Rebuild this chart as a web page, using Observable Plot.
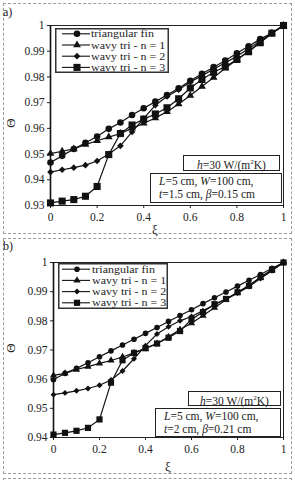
<!DOCTYPE html>
<html><head><meta charset="utf-8">
<script src="https://cdn.jsdelivr.net/npm/d3@7"></script>
<script src="https://cdn.jsdelivr.net/npm/@observablehq/plot@0.6"></script>
<style>
body{margin:0;background:#fff;font-family:"Liberation Serif","Times New Roman",serif;color:#111}
#root{position:relative;width:295px;height:480px;overflow:hidden;background:#fff}
.abs{position:absolute}
.dash{position:absolute;border:1px dashed #9c9c9c;box-sizing:border-box}
.box{position:absolute;border:1.5px solid #222;background:#fff;box-sizing:border-box;font-size:11.5px;line-height:13px;white-space:nowrap;color:#222}
.lbl{position:absolute;font-size:12px;line-height:12px;color:#222}
.ax{position:absolute;font-size:13px;line-height:13px;color:#222;transform:translate(-50%,-50%)}
.plot{position:absolute;left:0}
</style></head>
<body><div id="root"></div>
<script>
// ---- data ----
const xi = [0,0.05,0.1,0.15,0.2,0.25,0.3,0.35,0.4,0.45,0.5,0.55,0.6,0.65,0.7,0.75,0.8,0.85,0.9,0.95,1];
const seriesNames = ["triangular fin","wavy tri - n = 1","wavy tri - n = 2","wavy tri - n = 3"];
// panel a (t = 1.5 cm)
const triA = [0.9467,0.9493,0.9520,0.9544,0.9568,0.9598,0.9623,0.9652,0.9678,0.9704,0.9730,0.9756,0.9785,0.9812,0.9838,0.9864,0.9892,0.9919,0.9947,0.9971,1.0];
const n1A  = [0.9502,0.9511,0.9520,0.9537,0.9552,0.9566,0.9580,0.9600,0.9620,0.9640,0.9665,0.9695,0.9728,0.9763,0.9798,0.9834,0.9867,0.9900,0.9935,0.9970,1.0];
const n2A  = [0.9430,0.9439,0.9447,0.9457,0.9473,0.9500,0.9532,0.9586,0.9638,0.9690,0.9724,0.9750,0.9780,0.9805,0.9830,0.9855,0.9880,0.9910,0.9940,0.9970,1.0];
const n3A  = [0.9310,0.9317,0.9323,0.9336,0.9374,0.9498,0.9580,0.9613,0.9636,0.9656,0.9680,0.9715,0.9757,0.9790,0.9818,0.9840,0.9868,0.9898,0.9933,0.9970,1.0];
// panel b (t = 2 cm)
const triB = [0.9598,0.9620,0.9637,0.9656,0.9677,0.9697,0.9717,0.9737,0.9757,0.9777,0.9798,0.9818,0.9838,0.9859,0.9879,0.9899,0.9919,0.9939,0.9959,0.9980,1.0];
const n1B  = [0.9613,0.9620,0.9633,0.9643,0.9654,0.9664,0.9676,0.9690,0.9705,0.9722,0.9745,0.9770,0.9792,0.9818,0.9845,0.9872,0.9897,0.9922,0.9948,0.9974,1.0];
const n2B  = [0.9547,0.9553,0.9560,0.9568,0.9579,0.9597,0.9628,0.9670,0.9715,0.9755,0.9780,0.9800,0.9815,0.9835,0.9855,0.9875,0.9895,0.9918,0.9945,0.9972,1.0];
const n3B  = [0.9410,0.9416,0.9423,0.9433,0.9462,0.9588,0.9665,0.9690,0.9706,0.9722,0.9742,0.9765,0.9805,0.9830,0.9857,0.9875,0.9898,0.9920,0.9950,0.9975,1.0];
const xTicks = [0,0.2,0.4,0.6,0.8,1];
const yTicksA = [0.93,0.94,0.95,0.96,0.97,0.98,0.99,1];
const yTicksB = [0.94,0.95,0.96,0.97,0.98,0.99,1];

const symbols = ["circle","triangle","diamond2","square"];
const root = document.getElementById("root");
const fmt = d => String(+d.toFixed(2));

function tidy(arrs){
  const out = [];
  arrs.forEach((a,i)=> a.forEach((v,j)=> out.push({s:seriesNames[i], x:xi[j], y:v})));
  return out;
}

function panel(arrs, yTicks, opt){
  const data = tidy(arrs);
  const marks = [Plot.frame({stroke:"#222", strokeWidth:1})];
  seriesNames.forEach((s,i)=>{
    marks.push(Plot.line(data.filter(d=>d.s===s), {x:"x", y:"y", stroke:"#111", strokeWidth:opt.sw}));
  });
  seriesNames.forEach((s,i)=>{
    marks.push(Plot.dot(data.filter(d=>d.s===s), {x:"x", y:"y", symbol:()=>symbols[i], r:opt.r[i], fill:"#111", stroke:"none"}));
  });
  marks.push(Plot.ruleX([0], {stroke:"#111", strokeWidth:1.6}));
  return Plot.plot({
    width:295, height:240,
    marginLeft:opt.ml, marginRight:12, marginTop:25, marginBottom:opt.mb,
    style:{fontFamily:'"Liberation Serif","Times New Roman",serif', fontSize:"11.5px", color:"#222", background:"transparent"},
    x:{domain:[0,1], ticks:xTicks, tickFormat:fmt, label:null, tickSize:3, tickPadding:4},
    y:{domain:[yTicks[0],1], ticks:yTicks, tickFormat:fmt, label:null, tickSize:3, tickPadding:3},
    symbol:{type:"identity"},
    marks
  });
}

function legend(left, top, w, h, rows, lx0, lx1, mx, tx, rs){
  const svg = d3.create("svg").attr("width",w).attr("height",h)
    .style("position","absolute").style("left",left+"px").style("top",top+"px").style("overflow","visible");
  svg.append("rect").attr("x",0.75).attr("y",0.75).attr("width",w-1.5).attr("height",h-1.5)
    .attr("fill","#fff").attr("stroke","#333").attr("stroke-width",1.5);
  const symMap = {circle:d3.symbolCircle, triangle:d3.symbolTriangle, diamond2:d3.symbolDiamond2, square:d3.symbolSquare};
  seriesNames.forEach((s,i)=>{
    const y = rows[i];
    svg.append("line").attr("x1",lx0).attr("x2",lx1).attr("y1",y).attr("y2",y).attr("stroke","#111").attr("stroke-width",1.1);
    svg.append("path").attr("d", d3.symbol(symMap[symbols[i]], Math.PI*rs[i]*rs[i])()).attr("transform",`translate(${mx},${y})`).attr("fill","#111");
    svg.append("text").attr("transform",`translate(${tx},${y}) scale(1.2,1)`).attr("dy","0.35em").text(s)
      .attr("font-family",'"Liberation Serif","Times New Roman",serif').attr("font-size",10).attr("fill","#222");
  });
  root.appendChild(svg.node());
}

function html(cls, style, content){
  const d = document.createElement("div");
  d.className = cls; d.setAttribute("style", style); d.innerHTML = content;
  root.appendChild(d);
  return d;
}

// dashed frames
html("dash","left:3px;top:3px;width:289px;height:231px","");
html("dash","left:3px;top:238px;width:289px;height:236px","");
html("dash","left:3px;top:478px;width:289px;height:20px","");

// panel a
const pa = panel([triA,n1A,n2A,n3A], yTicksA, {ml:50, mb:35, sw:1.2, r:[3.3,2.9,3.0,4.0]});
pa.classList.add("plot"); pa.style.top = "0px"; root.appendChild(pa);
// panel b
const pb = panel([triB,n1B,n2B,n3B], yTicksB, {ml:53, mb:40, sw:1.2, r:[2.8,2.7,2.7,3.5]});
pb.classList.add("plot"); pb.style.top = "237px"; root.appendChild(pb);

// legends
legend(55, 28, 114, 45, [5.8,17,28.2,39.4], 7, 35, 22, 36, [3.3,2.9,3.0,4.0]);
legend(58, 263, 110, 46, [6.2,17.4,28.6,39.8], 4, 32, 19, 34, [2.8,2.7,2.7,3.5]);

// annotation boxes
html("box","left:183px;top:155px;width:97px;height:16px;text-align:center;line-height:13px","<i>h</i>=30 W/(m<sup style='font-size:7px'>2</sup>K)");
html("box","left:150px;top:173px;width:132px;height:30px;padding:1px 0 0 8px","<i>L</i>=5 cm, <i>W</i>=100 cm,<br><i>t</i>=1.5 cm, <i>β</i>=0.15 cm");
html("box","left:188px;top:391px;width:93px;height:15px;text-align:center;line-height:12px","<i>h</i>=30 W/(m<sup style='font-size:7px'>2</sup>K)");
html("box","left:155px;top:408px;width:126px;height:29px;padding:1px 0 0 8px","<i>L</i>=5 cm, <i>W</i>=100 cm,<br><i>t</i>=2 cm, <i>β</i>=0.21 cm");

// panel letters and axis labels
html("lbl","left:3px;top:6px","a)");
html("lbl","left:3px;top:240px","b)");
html("ax","left:155px;top:229px","ξ");
html("ax","left:168px;top:466px","ξ");
html("ax","left:10px;top:123px;transform:translate(-50%,-50%) rotate(-90deg)","Θ");
html("ax","left:10px;top:348px;transform:translate(-50%,-50%) rotate(-90deg)","Θ");
</script>
</body></html>
